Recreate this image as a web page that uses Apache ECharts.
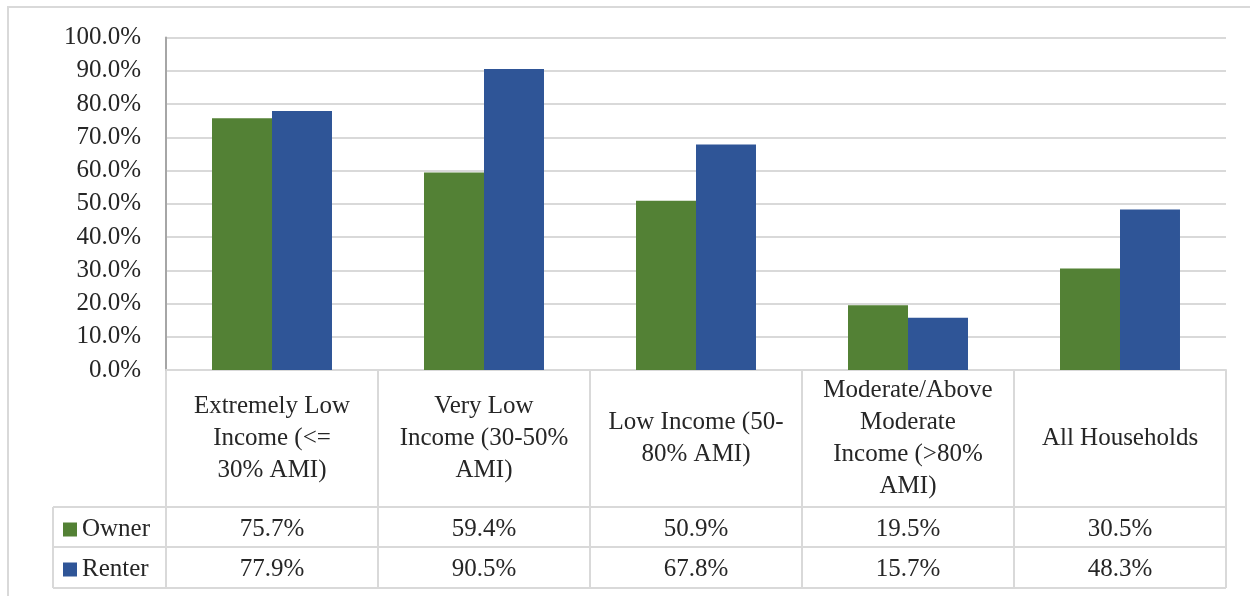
<!DOCTYPE html>
<html>
<head>
<meta charset="utf-8">
<script src="https://cdn.jsdelivr.net/npm/echarts@6/dist/echarts.min.js"></script>
<style>
    html, body { margin: 0; padding: 0; background: #fff; }
    #myChart { width: 1250px; height: 596px; }
</style>
</head>
<body>
<div id="myChart"></div>
<script>
    // 数据
    var categories = [
        'Extremely Low\nIncome (<=\n30% AMI)',
        'Very Low\nIncome (30-50%\nAMI)',
        'Low Income (50-\n80% AMI)',
        'Moderate/Above\nModerate\nIncome (>80%\nAMI)',
        'All Households'
    ]
    var owner = [75.7, 59.4, 50.9, 19.5, 30.5]
    var renter = [77.9, 90.5, 67.8, 15.7, 48.3]
    var yTicks = [0, 10, 20, 30, 40, 50, 60, 70, 80, 90, 100]

    var font = '"Liberation Serif", "Times New Roman", serif'
    var fontSize = 25
    var textColor = '#262626'
    var lineColor = '#d9d9d9'

    // 表格布局
    var gridLeft = 166
    var gridRight = 1226
    var plotBottom = 370
    var rowTop = 507
    var rowMid = 547
    var rowBottom = 588
    var legendLeft = 53

    let myChart = echarts.init(document.getElementById('myChart'))

    function pct (v) {
        return v.toFixed(1) + '%'
    }

    var tableLines = []
    var colW = (gridRight - gridLeft) / categories.length
    for (let i = 0; i <= categories.length; i++) {
        let x = gridLeft + i * colW
        tableLines.push({type: 'line', shape: {x1: x, y1: plotBottom, x2: x, y2: rowBottom}})
    }
    ;[rowTop, rowMid, rowBottom].forEach(function (y) {
        tableLines.push({type: 'line', shape: {x1: legendLeft, y1: y, x2: gridRight, y2: y}})
    })
    tableLines.push({type: 'line', shape: {x1: legendLeft, y1: rowTop, x2: legendLeft, y2: rowBottom}})
    tableLines.forEach(function (l) {
        l.style = {stroke: lineColor, lineWidth: 2}
        l.silent = true
    })
    // 外框
    tableLines.push({type: 'rect', shape: {x: 8, y: 7, width: 1260, height: 600}, style: {fill: null, stroke: lineColor, lineWidth: 2}, silent: true})

    function tableAxis (values, offset) {
        return {
            type: 'category',
            gridIndex: 0,
            position: 'bottom',
            offset: offset,
            data: values.map(pct),
            axisLine: {show: false},
            axisTick: {show: false},
            axisLabel: {
                interval: 0,
                margin: 0,
                verticalAlign: 'middle',
                fontFamily: font,
                fontSize: fontSize,
                color: textColor
            }
        }
    }

    myChart.setOption({
        animation: false,
        textStyle: {fontFamily: font},
        grid: {left: gridLeft, right: 1250 - gridRight, top: 37.5, bottom: 596 - plotBottom},
        legend: {
            orient: 'vertical',
            left: 63,
            top: 517,
            padding: 0,
            itemWidth: 14,
            itemHeight: 14,
            itemGap: 15,
            icon: 'rect',
            textStyle: {fontFamily: font, fontSize: fontSize, color: textColor},
            data: ['Owner', 'Renter']
        },
        xAxis: [
            {
                type: 'category',
                data: categories,
                axisLine: {show: true, lineStyle: {color: lineColor, width: 2}},
                axisTick: {show: false},
                axisLabel: {
                    interval: 0,
                    margin: 68,
                    verticalAlign: 'middle',
                    lineHeight: 32,
                    fontFamily: font,
                    fontSize: fontSize,
                    color: textColor
                }
            },
            tableAxis(owner, 159),
            tableAxis(renter, 199)
        ],
        yAxis: {
            type: 'value',
            min: yTicks[0],
            max: yTicks[yTicks.length - 1],
            interval: yTicks[1] - yTicks[0],
            axisLine: {show: true, lineStyle: {color: '#a6a6a6', width: 2}},
            axisTick: {show: false},
            splitLine: {lineStyle: {color: lineColor, width: 2}},
            axisLabel: {
                margin: 25,
                fontFamily: font,
                fontSize: fontSize,
                color: textColor,
                formatter: function (v) { return pct(v) }
            }
        },
        series: [
            {
                name: 'Owner',
                type: 'bar',
                data: owner,
                barGap: '0%',
                barCategoryGap: '43.4%',
                itemStyle: {color: '#538135'}
            },
            {
                name: 'Renter',
                type: 'bar',
                data: renter,
                barGap: '0%',
                barCategoryGap: '43.4%',
                itemStyle: {color: '#2f5597'}
            }
        ],
        graphic: tableLines
    })
</script>
</body>
</html>
